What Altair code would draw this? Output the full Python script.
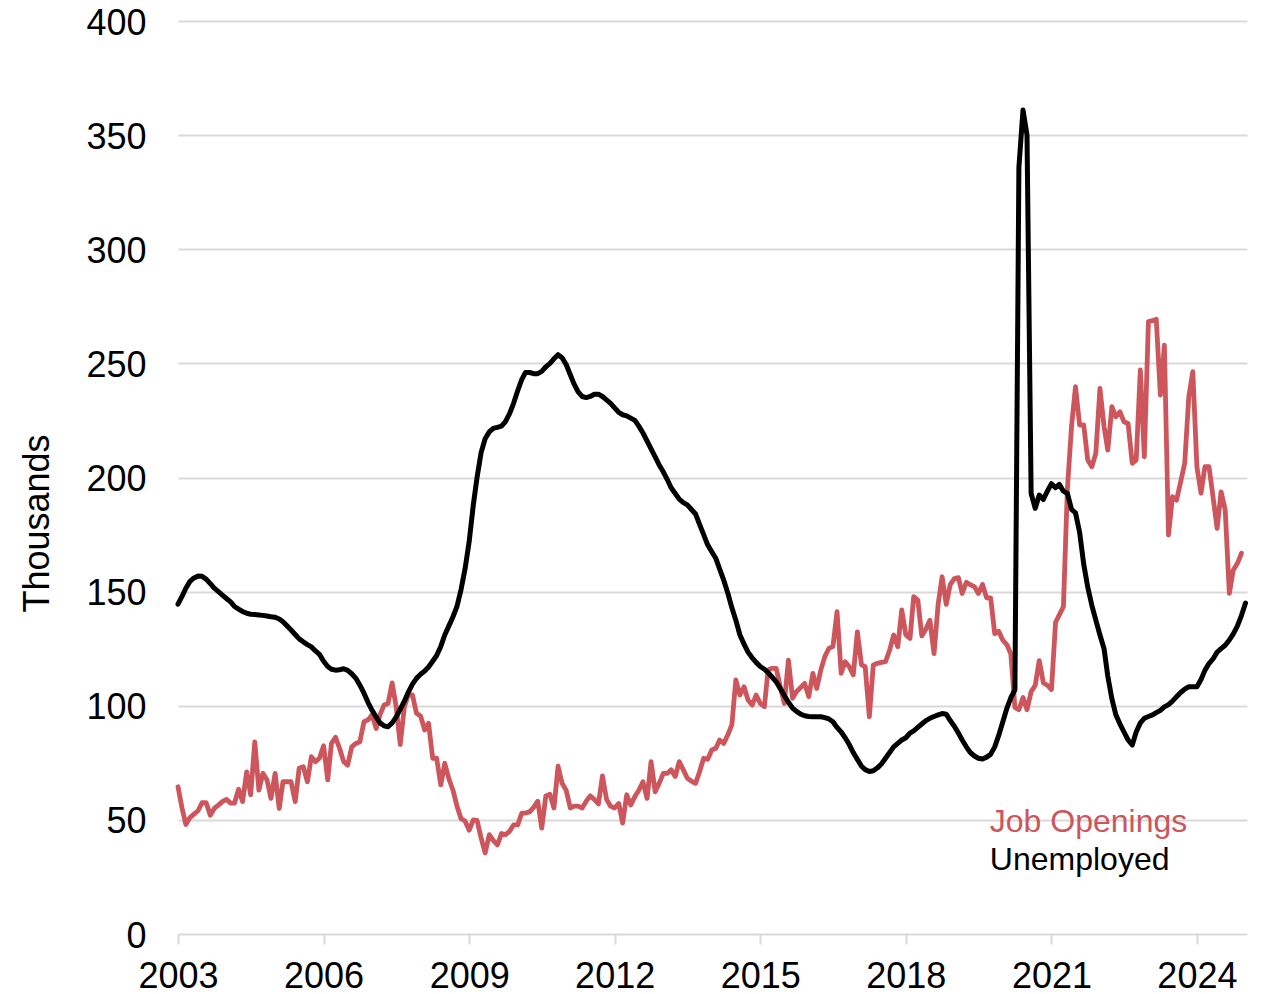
import altair as alt
import pandas as pd

# Monthly values (thousands), Jan 2003 onward
unemployed = [
    144.5, 148, 151.5, 154.5, 156, 156.8, 156.7, 155.5, 153.5, 151.5, 150, 148.5,
    147, 145.5, 143.5, 142.3, 141.3, 140.5, 140.1, 140, 139.8, 139.6, 139.3, 139,
    138.8, 138, 136.8, 135, 133.2, 131.2, 129.3, 128, 126.8, 125.8, 124, 122.5,
    119.5, 117.2, 116, 115.6, 115.8, 116.2, 115.5, 114, 112, 109, 105.5, 101.5,
    98, 95, 92.5, 91.2, 90.8, 92.5, 95, 98.5, 102, 106, 109.5, 112,
    113.8, 115.2, 117, 119.5, 122, 126, 131, 135, 139, 143.5, 151, 160,
    172, 188, 200, 211, 217, 220, 221.5, 222, 222.5, 224.5, 228, 232.5,
    238, 243, 246, 246, 245.5, 245.5, 246.5, 248.5, 250, 252, 253.8, 252.5,
    249.5, 245, 241, 237.5, 235.5, 235, 235.5, 236.5, 236.5, 235.5, 234, 232.5,
    230.5, 228.5, 227.5, 227, 226, 225, 222.5, 219.5, 216, 212.5, 209, 205.5,
    202.5, 199, 195.5, 193, 190.5, 189, 188, 186, 184, 179.5, 175, 170.5,
    167.5, 164.5, 160, 155, 149.5, 143, 137.5, 131, 127, 123.5, 121, 119,
    117.2, 116, 114.5, 112.5, 110.5, 107.5, 104.5, 101.5, 99, 97.5, 96.3, 95.6,
    95.3, 95.2, 95.2, 95.2, 94.8, 94.2, 93, 90.5, 88.5, 86, 83, 79.5,
    76.5, 73.5, 72, 71.2, 71.5, 72.8, 74.5, 77, 79.5, 82, 83.5, 85,
    86, 88, 89, 90.5, 92, 93.5, 94.5, 95.3, 96, 96.6, 96.3, 93.5,
    91, 88, 85, 82, 79.5, 78, 77, 76.7, 77.5, 78.7, 82, 87,
    93, 99, 103.5, 107, 336, 361, 350, 193, 186.5, 192.3, 190.4, 194,
    197.3, 195.5, 197, 194, 193, 186, 184.5, 176, 162, 152, 144, 137.5,
    131, 125, 113, 103, 96, 92, 88.5, 85, 82.8, 88.5, 92.5, 94.5,
    95.3, 96, 97, 98, 99.5, 100.5, 102, 104, 105.8, 107.3, 108.3, 108.3,
    108.3, 111.5, 115.5, 118.5, 120.5, 123.5, 125, 126.5, 128.8, 131.5, 135, 139.5,
    145,
]

job_openings = [
    64.5, 55, 48, 51, 52.5, 54, 57.5, 57.5, 52, 55, 56.5, 58,
    59, 57.3, 57.3, 63.4, 58, 71, 61, 84.2, 63, 70.4, 67.5, 59.4,
    70.4, 55, 66.7, 66.7, 66.7, 58, 72.6, 73.3, 66.7, 77.7, 75.5, 77,
    82.5, 67.5, 83.5, 86.2, 81.4, 75.5, 74, 82, 83.5, 84.2, 93, 93.8,
    96, 90, 96, 100.3, 101, 110, 99.6, 83, 99.6, 104.7, 104.7, 96.7,
    95.5, 89.4, 92.3, 77, 77, 65.3, 74.8, 68, 63, 56, 50.5, 49.5,
    45.5, 50, 49.8, 42, 35.5, 43.5, 41, 39, 44, 43.5, 45, 47.8,
    47.8, 53, 53, 53.5, 55.5, 58.2, 46.4, 60.5, 61.2, 55.2, 73.5, 66,
    63, 55.2, 56, 56, 55.2, 58.2, 60.5, 59, 57, 69.3, 59, 56,
    55.2, 57.2, 48.6, 61, 56.5, 60.2, 63, 66.7, 59.4, 75.5, 62.3, 66,
    70.4, 70.4, 71.9, 69, 75.5, 71.9, 68.2, 67, 66, 71.1, 77, 76.5,
    80.6, 81.4, 85, 83.5, 87.2, 91.6, 111.3, 104.7, 108.3, 102.5, 100.3, 104.7,
    101, 99.6, 115.7, 116.4, 116.4, 108.3, 101, 120, 103.3, 106.2, 108, 109.8,
    104, 114.2, 107.6, 115.7, 121.5, 125.2, 125.9, 141.2, 114.2, 119.3, 117.1, 113.5,
    132.4, 117.9, 117.1, 95.2, 117.9, 118.6, 119, 119.3, 124.4, 131, 125.9, 142,
    131, 129.5, 147.8, 146.3, 130.6, 133.6, 137.5, 122.8, 144.4, 156.5, 144.4, 153.1,
    155.7, 156.1, 149.2, 154.1, 153, 152.2, 149.2, 153.1, 147.3, 147.3, 131.6, 132.6,
    128.7, 126.7, 122.8, 99.3, 98.3, 103.6, 98.3, 106.1, 109, 119.8, 110, 109,
    107.1, 136.5, 139.8, 143.4, 195, 222.3, 239.8, 223, 223, 207.7, 204.7, 210.6,
    239, 222.3, 212, 231, 226.6, 228.8, 224.4, 223.7, 206.2, 207.7, 247.1, 209.1,
    268.3, 268.7, 269.3, 236.1, 258, 174.8, 191.6, 190.1, 198.2, 206.2, 235.4, 246.4,
    204.7, 193.1, 204.7, 204.7, 191.6, 177.7, 193.7, 185.8, 149.2, 159.5, 162.4, 166.8,
]

x_tick_years = [2003, 2006, 2009, 2012, 2015, 2018, 2021, 2024]
y_ticks = [0, 50, 100, 150, 200, 250, 300, 350, 400]
series_names = ["Job Openings", "Unemployed"]
legend_dates = ["2019-09-25", "2019-09-25"]
legend_values = [49, 32.4]

RED = "#CD555C"
BLACK = "#000000"
GRID = "#D9D9D9"
FONT = "Liberation Sans"

df_u = pd.DataFrame({
    "date": pd.date_range("2003-01-01", periods=len(unemployed), freq="MS"),
    "value": unemployed,
})
df_j = pd.DataFrame({
    "date": pd.date_range("2003-01-01", periods=len(job_openings), freq="MS"),
    "value": job_openings,
})
df_leg = pd.DataFrame({
    "date": pd.to_datetime(legend_dates),
    "value": legend_values,
    "series": series_names,
})

x_enc = alt.X(
    "date:T",
    scale=alt.Scale(domain=[alt.DateTime(year=2003, month=1, date=1),
                            alt.DateTime(year=2025, month=1, date=12)]),
    axis=alt.Axis(
        values=[alt.DateTime(year=y, month=1, date=1) for y in x_tick_years],
        format="%Y", grid=False, domain=False,
        ticks=True, tickSize=10, tickWidth=2, tickColor=GRID,
        labelFontSize=36, labelPadding=15, labelColor="black",
        labelFont=FONT, labelFlush=False, labelOverlap=False,
    ),
    title=None,
)

y_enc = alt.Y(
    "value:Q",
    scale=alt.Scale(domain=[0, 400], nice=False),
    axis=alt.Axis(
        values=y_ticks, grid=True, gridColor=GRID, gridWidth=2,
        domain=False, ticks=False,
        labelFontSize=36, labelPadding=32, labelColor="black", labelFont=FONT,
        labelOffset=2,
        title="Thousands", titleFontSize=36, titleFontWeight="normal",
        titleFont=FONT, titleColor="black", titleAngle=270,
        titleX=-141, titleY=502, titleAlign="center", titleBaseline="middle",
    ),
)

jobs_line = alt.Chart(df_j).mark_line(
    color=RED, strokeWidth=4.8, strokeJoin="round", strokeCap="round"
).encode(x=x_enc, y=y_enc)

unemp_line = alt.Chart(df_u).mark_line(
    color=BLACK, strokeWidth=5, strokeJoin="round", strokeCap="round"
).encode(x="date:T", y="value:Q")

legend_text = alt.Chart(df_leg).mark_text(
    align="left", baseline="middle", fontSize=32, font=FONT
).encode(
    x="date:T",
    y="value:Q",
    text="series:N",
    color=alt.Color("series:N",
                    scale=alt.Scale(domain=series_names, range=[RED, BLACK]),
                    legend=None),
)

chart = alt.layer(jobs_line, unemp_line, legend_text).properties(
    width=1069,
    height=913,
    padding={"left": 170, "top": 13, "right": 6, "bottom": 64},
    autosize=alt.AutoSizeParams(type="none"),
).configure(font=FONT).configure_view(stroke=None)

chart.save("out.html", embed_options={"renderer": "svg", "actions": False})
